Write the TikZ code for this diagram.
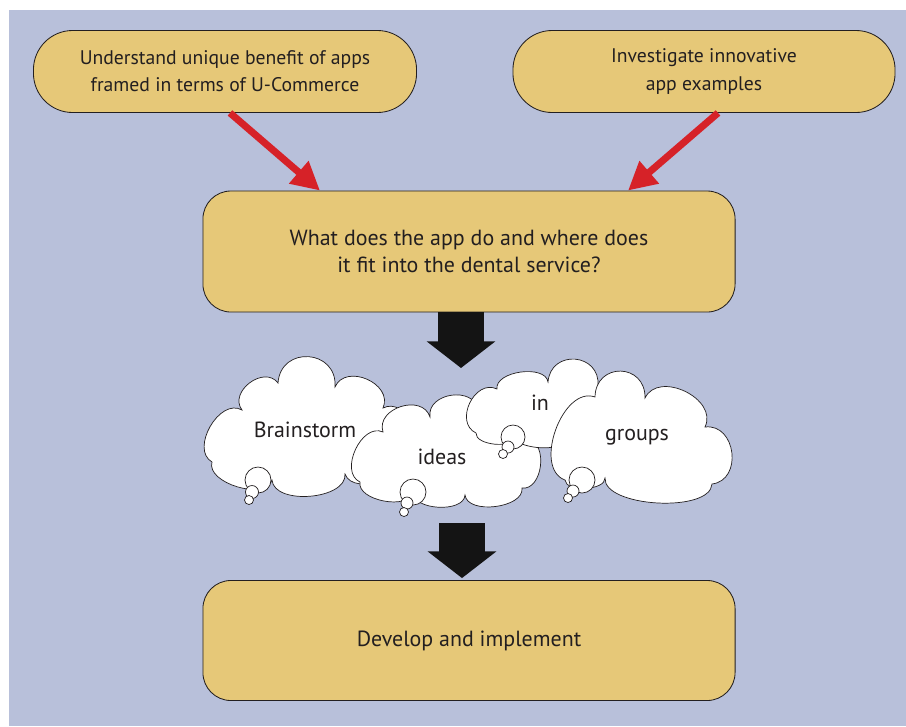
\documentclass[tikz,border=0pt]{standalone}
\usepackage{fontspec}
\setmainfont{PT Sans}
\usetikzlibrary{arrows.meta,calc}
\definecolor{bgblue}{RGB}{184,192,218}
\definecolor{boxyellow}{RGB}{230,200,120}
\definecolor{arrowred}{RGB}{214,34,40}
\definecolor{inkgray}{RGB}{35,31,32}
\newcommand{\smallboxfont}{\fontsize{14}{19.3}\selectfont}
\newcommand{\boxfont}{\fontsize{15.6}{19.8}\selectfont}

\tikzset{
  stepbox/.style={draw=inkgray, line width=0.6pt, fill=boxyellow, text=inkgray,
    align=center, inner sep=0pt, font=\boxfont},
  cloudshape/.style={draw=inkgray, fill=white, line width=0.5pt},
  cloudtext/.style={text=inkgray, font=\boxfont},
  puff/.style={bend left=90, looseness=1.3},
  redarrow/.style={draw=arrowred, line width=5pt, -{Triangle[width=20pt,length=20pt]}},
  blockarrow/.style={draw=black!92, line width=33pt, -{Triangle[width=48pt,length=19pt]}}
}

\begin{document}
\begin{tikzpicture}[x=0.025cm,y=-0.025cm]
\useasboundingbox (0,0) rectangle (906,726);
\fill[bgblue] (9,10) rectangle (906,726);

% the four boxes
\node[stepbox, font=\smallboxfont, minimum width=9.575cm, minimum height=2.05cm, rounded corners=0.98cm]
  (box1) at (225,71.5) {Understand unique benefit of apps\\framed in terms of U-Commerce};
\node[stepbox, font=\smallboxfont, minimum width=9.55cm, minimum height=2.05cm, rounded corners=0.98cm]
  (box2) at (704,71.5) {Investigate innovative\\app examples};
\node[stepbox, minimum width=13.3cm, minimum height=3.025cm, rounded corners=0.7cm]
  (box3) at (469,251.5) {What does the app do and where does\\it fit into the dental service?};
\node[stepbox, minimum width=13.3cm, minimum height=3cm, rounded corners=0.7cm]
  (box4) at (469,640.5) {Develop and implement};

\draw[redarrow] ($(box1.south)+(5,0)$) -- ($(box3.north)+(-149,0)$);
\draw[redarrow] ($(box2.south)+(14,0)$) -- ($(box3.north)+(159,0)$);

% clouds, left to right
\draw[cloudshape] (212,462) to[puff,looseness=1.1] (242,410) to[puff] (278,383) to[puff,looseness=1.7] (335,387)
  to[puff] (383,408) to[puff] (405,452) to[puff,looseness=1] (345,474)
  to[puff,looseness=0.9] (272,480) to[puff,looseness=0.9] cycle;
\draw[cloudshape] (258,480) circle[radius=13];
\draw[cloudshape] (252,492) circle[radius=6.5];
\draw[cloudshape] (249,500) circle[radius=4.5];
\node[cloudtext] (brainstorm) at (305,430) {Brainstorm};

\draw[cloudshape] (360,482) to[puff,looseness=1.1] (383,432) to[puff] (430,417) to[puff] (478,410)
  to[puff] (528,440) to[puff,looseness=1.1] (522,488) to[puff,looseness=0.9] (465,495)
  to[puff,looseness=0.9] (413,492) to[puff,looseness=0.9] cycle;
\draw[cloudshape] (413,492) circle[radius=13];
\draw[cloudshape] (407,503) circle[radius=6];
\draw[cloudshape] (404,512) circle[radius=4.5];
\node[cloudtext] (ideas) at (442,457) {ideas};

\draw[cloudshape] (476,433) to[puff] (497,389) to[puff,looseness=0.9] (548,382)
  to[puff,looseness=1.7] (598,386) to[puff] (612,425) to[puff,looseness=0.6] (560,442)
  to[puff,looseness=0.6] (515,437) to[puff,looseness=0.8] cycle;
\draw[cloudshape] (513,437) circle[radius=12];
\draw[cloudshape] (508,447) circle[radius=6];
\draw[cloudshape] (503,454) circle[radius=4.5];
\node[cloudtext] (in) at (540,403) {in};

\draw[cloudshape] (565,480) to[puff,looseness=1] (595,397) to[puff,looseness=1.8] (645,398)
  to[puff,looseness=1.2] (705,427) to[puff,looseness=1.4] (712,484)
  to[puff,looseness=0.7] (605,478) to[puff,looseness=0.8] cycle;
\draw[cloudshape] (582,480) circle[radius=13];
\draw[cloudshape] (573,491) circle[radius=6];
\draw[cloudshape] (568,498) circle[radius=4.5];
\node[cloudtext] (groups) at (637,437) {groups};

% block arrows
\coordinate (cloudtop) at (461,368);
\coordinate (cloudfoot) at (462,523);
\draw[blockarrow] (box3.south -| cloudtop) -- (cloudtop);
\draw[blockarrow] (cloudfoot) -- ($(cloudfoot |- box4.north)+(0,-2)$);
\end{tikzpicture}
\end{document}
